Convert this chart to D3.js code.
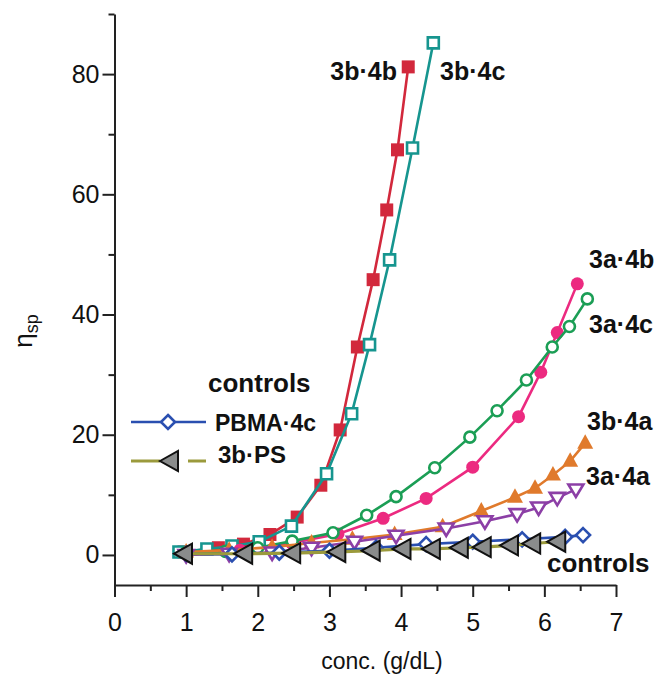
<!DOCTYPE html>
<html><head><meta charset="utf-8">
<script src="https://cdn.jsdelivr.net/npm/d3@7"></script>
<style>
body{margin:0;background:#fff;}
svg{display:block;font-family:"Liberation Sans",Arial,Helvetica,sans-serif;}
</style></head>
<body><svg id="c" width="654" height="675"></svg>
<script>
// ---- data ----
const xTicks = [0,1,2,3,4,5,6,7];
const yTicks = [0,20,40,60,80];
const seriesNames = ["3b·4b","3b·4c","3a·4b","3a·4c","3b·4a","3a·4a","PBMA·4c","3b·PS"];

const x_3b4b = [0.97,1.45,1.8,2.17,2.55,2.88,3.15,3.39,3.61,3.80,3.95,4.10];
const y_3b4b = [0.5,1.2,1.8,3.4,6.3,11.6,20.8,34.6,45.8,57.4,67.4,81.2];

const x_3b4c = [0.9,1.29,1.64,2.02,2.47,2.96,3.31,3.56,3.84,4.16,4.45];
const y_3b4c = [0.5,1.0,1.5,2.2,4.8,13.5,23.5,35.0,49.1,67.7,85.2];

const x_3a4b = [1.0,1.75,2.47,3.12,3.75,4.35,5.0,5.64,5.95,6.18,6.46];
const y_3a4b = [0.3,0.8,2.0,3.5,6.1,9.4,14.6,23.0,30.4,37.0,45.1];

const x_3a4c = [1.0,1.55,2.0,2.48,3.05,3.52,3.93,4.47,4.96,5.34,5.75,6.11,6.35,6.6];
const y_3a4c = [0.4,0.6,1.2,2.3,3.7,6.6,9.7,14.5,19.6,24.0,29.1,34.6,38.0,42.6];

const x_3b4a = [1.0,1.6,2.2,2.75,3.32,3.91,4.58,5.12,5.59,5.87,6.12,6.36,6.57];
const y_3b4a = [0.5,0.8,1.3,2.0,2.6,3.4,4.7,7.3,9.6,11.1,13.3,15.6,18.6];

const x_3a4a = [1.0,1.6,2.2,2.75,3.35,3.93,4.63,5.17,5.62,5.92,6.18,6.44];
const y_3a4a = [0.0,0.2,0.4,1.2,2.2,3.2,4.4,5.6,6.8,7.9,9.5,10.9];

const x_pbma = [1.0,1.64,2.3,3.0,3.65,4.35,5.0,5.69,6.29,6.54];
const y_pbma = [0.2,0.1,0.4,0.7,1.2,1.8,2.2,2.6,3.0,3.3];

const x_ps = [0.97,1.81,2.48,3.11,3.59,4.02,4.43,4.82,5.14,5.52,5.83,6.18];
const y_ps = [0.2,0.2,0.3,0.5,0.7,1.0,1.0,1.2,1.3,1.6,1.9,2.2];

// ---- layout ----
const svg = d3.select("#c");
const x = d3.scaleLinear().domain([0,7]).range([114.5,616]);
const y = d3.scaleLinear().domain([-5,90]).range([585,14]);

const zip = (xs,ys)=>xs.map((v,i)=>[v,ys[i]]);
const styles = [
 {name:seriesNames[0], d:zip(x_3b4b,y_3b4b), color:"#d2283c", mark:"square", fill:true},
 {name:seriesNames[1], d:zip(x_3b4c,y_3b4c), color:"#16958f", mark:"square", fill:false},
 {name:seriesNames[2], d:zip(x_3a4b,y_3a4b), color:"#ec2a80", mark:"circle", fill:true},
 {name:seriesNames[3], d:zip(x_3a4c,y_3a4c), color:"#1b9e55", mark:"circle", fill:false},
 {name:seriesNames[4], d:zip(x_3b4a,y_3b4a), color:"#e07a2c", mark:"tri", fill:true},
 {name:seriesNames[5], d:zip(x_3a4a,y_3a4a), color:"#8c3fa6", mark:"tridown", fill:false},
 {name:seriesNames[6], d:zip(x_pbma,y_pbma), color:"#2a4fb0", mark:"diamond", fill:false},
 {name:seriesNames[7], d:zip(x_ps,y_ps), color:"#9b9a3c", mark:"trileft", fill:true}
];

const markPath = {
  square:"M-6.5,-6.5H6.5V6.5H-6.5Z",
  circle:"M6.5,0A6.5,6.5 0 1,1 -6.5,0A6.5,6.5 0 1,1 6.5,0Z",
  tri:"M0,-9L8,5.5H-8Z",
  tridown:"M-7.5,-5H7.5L0,7.5Z",
  diamond:"M0,-7L7,0L0,7L-7,0Z",
  trileft:"M-10,0L8,-10V10Z"
};

function drawMarker(g, s, px, py){
  const p = g.append("path").attr("d", markPath[s.mark]).attr("transform",`translate(${px},${py})`);
  if (s.mark==="trileft"){
    p.attr("fill","#8a8c8c").attr("stroke","#111").attr("stroke-width",2);
  } else if (s.fill){
    p.attr("fill", s.color).attr("stroke","none");
  } else {
    const sm = s.mark==="square" ? markPath.square.replace(/6\.5/g,"5.5") : markPath[s.mark];
    p.attr("d", s.mark==="circle" ? "M5.5,0A5.5,5.5 0 1,1 -5.5,0A5.5,5.5 0 1,1 5.5,0Z" : sm)
     .attr("fill","#fff").attr("stroke", s.color).attr("stroke-width",2.6);
  }
}

// ---- axes ----
const gx = svg.append("g").attr("transform",`translate(0,${y(-5)})`)
  .call(d3.axisBottom(x).tickValues(xTicks).tickSize(12).tickSizeOuter(0).tickPadding(16).tickFormat(d3.format("d")));
const gxm = svg.append("g").attr("transform",`translate(0,${y(-5)})`)
  .call(d3.axisBottom(x).tickValues(d3.range(0.5,7,1)).tickSize(6).tickFormat(""));
gxm.select(".domain").remove();

const gy = svg.append("g").attr("transform",`translate(${x(0)},0)`)
  .call(d3.axisLeft(y).tickValues(yTicks).tickSize(12).tickSizeOuter(0).tickPadding(3).tickFormat(d3.format("d")));
const gym = svg.append("g").attr("transform",`translate(${x(0)},0)`)
  .call(d3.axisLeft(y).tickValues([10,30,50,70,90]).tickSize(6).tickFormat(""));
gym.select(".domain").remove();

[gx,gy,gxm,gym].forEach(g=>{
  g.selectAll("path.domain").attr("stroke","#222").attr("stroke-width",2);
  g.selectAll(".tick line").attr("stroke","#222").attr("stroke-width",2);
  g.selectAll(".tick text").attr("font-size",25).attr("fill","#111")
   .attr("font-family","'Liberation Sans',Arial,sans-serif");
});

// axis titles
svg.append("text").attr("x",382).attr("y",669).attr("text-anchor","middle")
  .attr("font-size",23).attr("fill","#111").text("conc. (g/dL)");
const yl = svg.append("text").attr("transform","translate(32,331) rotate(-90)")
  .attr("text-anchor","middle").attr("font-size",26).attr("fill","#111");
yl.append("tspan").text("η");
yl.append("tspan").attr("font-size",18).attr("dy",6).text("sp");

// ---- series ----
const line = d3.line().x(d=>x(d[0])).y(d=>y(d[1]));
const plot = svg.append("g");
styles.forEach(s=>{
  const g = plot.append("g");
  g.append("path").attr("d", line(s.d)).attr("fill","none")
    .attr("stroke", s.color).attr("stroke-width", s.mark==="trileft"?3.2:2.6);
  s.d.forEach(p=>drawMarker(g, s, x(p[0]), y(p[1])));
});

// ---- labels ----
const lab = (t,px,py,anchor,fs)=>svg.append("text").attr("x",px).attr("y",py)
  .attr("text-anchor",anchor||"start").attr("font-size",fs||25).attr("font-weight","bold")
  .attr("fill","#111").text(t);
lab(seriesNames[0],397,80,"end");
lab(seriesNames[1],440,80);
lab(seriesNames[2],589,268);
lab(seriesNames[3],589,333);
lab(seriesNames[4],587,430);
lab(seriesNames[5],586,485);
lab("controls",547,572,"start",26);

// legend
lab("controls",208,392,"start",26);
const lg = svg.append("g");
lg.append("line").attr("x1",131).attr("x2",206).attr("y1",422).attr("y2",422)
  .attr("stroke",styles[6].color).attr("stroke-width",2.6);
drawMarker(lg, styles[6], 168, 422);
lg.append("line").attr("x1",131).attr("x2",160).attr("y1",461).attr("y2",461)
  .attr("stroke",styles[7].color).attr("stroke-width",3);
lg.append("line").attr("x1",188).attr("x2",206).attr("y1",461).attr("y2",461)
  .attr("stroke",styles[7].color).attr("stroke-width",3);
drawMarker(lg, styles[7], 170, 461);
lab(seriesNames[6],215,431,"start",23);
lab(seriesNames[7],218,463,"start",24);
</script></body></html>
